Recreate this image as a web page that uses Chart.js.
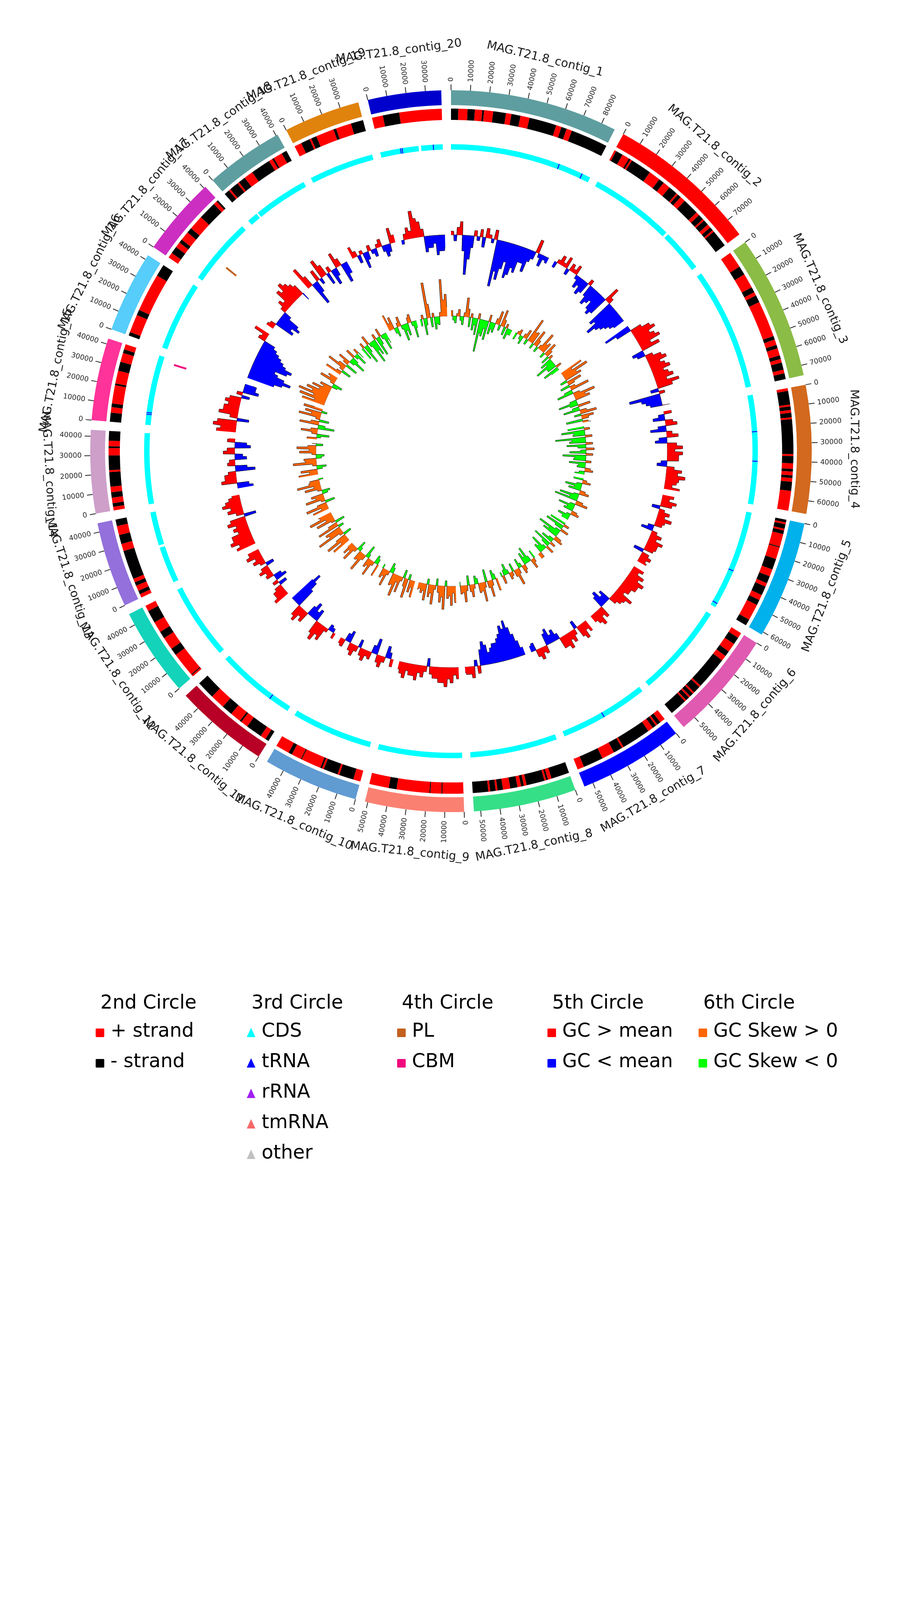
<!DOCTYPE html>
<html>
<head>
<meta charset="utf-8">
<title>MAG.T21.8 circular genome map</title>
<script src="https://cdn.jsdelivr.net/npm/chart.js@4.4.1/dist/chart.umd.min.js"></script>
<style>
  html, body { margin: 0; padding: 0; background: #fff; }
  #page { position: relative; width: 2310px; height: 4620px; background: #fff; font-family: "DejaVu Sans", sans-serif; }
  #page canvas { position: absolute; left: 0; top: 0; }
  .lg-text { position: absolute; font-size: 49px; line-height: 57px; color: #000; white-space: nowrap; }
  .lg-mark { position: absolute; width: 22px; height: 22px; border-radius: 2px; }
  .lg-mark.tri { height: 24px; border-radius: 0; clip-path: polygon(50% 0, 100% 100%, 0 100%); }
</style>
</head>
<body>
<div id="page">
  <canvas id="rings" width="2310" height="2310"></canvas>
  <canvas id="skew" width="2310" height="2310"></canvas>
  <canvas id="gc" width="2310" height="2310"></canvas>
</div>
<script>
// contigs, clockwise from the top
const contigNames = [
  'MAG.T21.8_contig_1', 'MAG.T21.8_contig_2', 'MAG.T21.8_contig_3', 'MAG.T21.8_contig_4',
  'MAG.T21.8_contig_5', 'MAG.T21.8_contig_6', 'MAG.T21.8_contig_7', 'MAG.T21.8_contig_8',
  'MAG.T21.8_contig_9', 'MAG.T21.8_contig_10', 'MAG.T21.8_contig_11', 'MAG.T21.8_contig_12',
  'MAG.T21.8_contig_13', 'MAG.T21.8_contig_14', 'MAG.T21.8_contig_15', 'MAG.T21.8_contig_16',
  'MAG.T21.8_contig_17', 'MAG.T21.8_contig_18', 'MAG.T21.8_contig_19', 'MAG.T21.8_contig_20'
];
const contigLengths = [87400, 79500, 75200, 66800, 61500, 57500, 54700, 53500, 51500, 49600,
                       49000, 46200, 44600, 43300, 42900, 42600, 41000, 40900, 39800, 38200];
const contigColors = ['#5f9ea0', '#ff0000', '#8bbc46', '#d2691e', '#00b1eb', '#e05ab2', '#0000ff', '#35df87', '#fa8072', '#609bd2',
                      '#b80026', '#13d3ba', '#9370db', '#cd9fc9', '#ff3399', '#56cdfa', '#cc2ec2', '#5f9ea0', '#e0830c', '#0000cd'];

// 2nd circle: strand of the first gene run, then kb positions where the strand flips
const strandFirst = ['-', '+', '+', '+', '-', '+', '+', '-', '+', '+', '-', '+', '+', '+', '-', '-', '+', '-', '+', '+'];
const strandSwitchKb = [
  [4, 9, 13, 17, 18, 23, 30, 33, 38, 43, 58, 61, 64, 67],
  [1, 5, 9, 10, 11, 22.6, 29, 32, 36, 41, 42, 44, 47, 56, 58, 61, 62, 65, 67, 69, 70],
  [9, 14, 22, 25, 27, 31, 51, 53, 56, 58, 62, 64, 66, 70, 72],
  [1.5, 9, 10, 12, 13.5, 16, 17, 36, 37, 41, 44, 45.5, 47.5, 49, 51, 56],
  [1.5, 2.5, 5, 6, 8, 15, 15.5, 22, 28, 32, 36, 38, 43, 46, 49, 58],
  [3, 7, 12, 15, 18, 36, 37, 41, 42, 44, 45, 47, 48],
  [3, 5, 6, 8, 11, 27, 28, 33, 40, 51],
  [10, 12, 13, 14, 24, 25.5, 27, 29, 33, 37, 40, 41, 44, 45],
  [11.5, 12, 18, 18.5, 36.5, 40.8],
  [4, 12, 13, 21, 22, 23, 34, 34.5, 40, 42],
  [2, 5, 14, 18, 19, 25, 31, 39],
  [1, 1.5, 15, 19, 26, 30, 36, 43],
  [2, 4, 7, 9, 11, 27, 31, 36, 41],
  [2, 4, 7, 10, 13, 21, 22, 30, 34, 35, 38],
  [5, 8, 10, 20, 21, 28, 33, 38, 40],
  [2, 12, 15, 36],
  [3, 7, 10, 12, 17, 20, 28, 38, 40],
  [3, 4, 9, 10, 14, 19, 30, 32, 33, 38],
  [4, 9, 10, 13, 23, 24.5, 33],
  [6, 15]
];

// 3rd circle: CDS-free stretches [contig, fromKb, toKb] and tRNA sites [contig, kb]
const cdsGapsKb = [[2, 52, 53.5], [13, 22.5, 24], [18, 6.5, 7.5], [20, 23.5, 25]];
const trnaKb = [[1, 67], [1, 82], [4, 22.5], [4, 40.5], [5, 37], [5, 59], [7, 28], [11, 13],
                [15, 6.5], [15, 7.5], [20, 12.5], [20, 13.5], [20, 32.5]];

// 4th circle: CAZyme hits [contig, kb]
const plKb = [[17, 15.5]];
const cbmKb = [[15, 40]];

// 5th circle: GC content (%) per 2.5 kb window
const gcWindow = 2500;
const gcContent = [
  [56, 53.5, 57, 58.5, 51, 45, 49, 52, 56.5, 54, 57, 52.5, 57.5, 56, 54, 57.5, 43, 47, 45, 48, 50, 46, 47, 49, 48, 51, 51, 49, 52, 53, 58.5, 54, 52, 54, 53.5],
  [53.5, 56, 57.5, 56, 58, 53.5, 57, 56, 57.5, 54, 52, 53, 51, 52, 56.5, 52, 50, 51, 52, 50, 49, 50, 59, 56.5, 48, 49, 46, 48, 49, 50, 51, 52],
  [48, 51, 58, 60, 61, 59, 60, 61, 58, 60, 52, 53, 57, 59, 60, 58, 59, 60, 58, 59, 60, 58, 61, 59, 53, 56.5, 47, 50, 51, 52, 57],
  [57, 53.5, 52, 57, 58, 53, 51, 56.5, 58, 53, 52, 57.5, 59, 57, 59, 58, 58, 53.5, 52.5, 57, 59, 58, 60, 58.5, 58, 57, 59],
  [58, 57, 59, 58, 53, 56.5, 58, 57, 59, 57.5, 57, 53.5, 52, 56.5, 58, 57, 59, 58, 58, 57.5, 52.5, 57, 58, 57, 57.5],
  [58, 57, 59, 58, 60, 59, 59, 58, 58, 57, 60, 58.5, 58, 57, 52, 53, 51, 52, 58, 57, 59, 58, 57],
  [58, 57, 59, 58, 53, 56.5, 58, 57, 59, 58, 58, 53.5, 52, 53, 51, 52, 57, 56.5, 58, 57, 53, 53.5],
  [53, 51, 49, 47, 45, 47, 46, 48, 49, 50, 50, 51, 52, 50, 49, 51, 57, 53.5, 58, 57, 57, 56.5],
  [58, 57, 59, 58, 60, 59, 59, 58, 58, 57, 53, 56.5, 58, 57, 59, 58, 58, 57, 59, 58, 57],
  [57, 53.5, 52, 56.5, 58, 57, 51, 53, 57, 56.5, 58, 57, 53, 56.5, 58, 57, 52, 53, 57, 56.5],
  [56.5, 54, 53.5, 56, 59, 58, 60, 58.5, 52, 53, 51, 52.5, 58, 57, 59, 58, 50, 48, 46, 48],
  [59, 58, 58, 57, 53, 56.5, 52, 53, 57, 56.5, 58, 57, 53, 56.5, 58, 57, 59, 58, 58],
  [60, 59, 61, 60, 60, 58, 59, 58, 60, 59, 52, 57, 59, 58, 60, 59, 58, 57],
  [51, 52, 59, 58, 58, 57, 50, 52, 57, 56.5, 52, 53, 58, 57, 51, 52, 57, 56.5],
  [60, 59, 61, 60, 52, 57, 60, 59, 59, 58, 59, 58, 53, 56.5, 51, 52, 52, 53],
  [48, 46, 44, 46, 48, 49, 46, 45, 47, 48, 49, 50, 51, 52, 57, 56.5, 59, 58],
  [57, 56.5, 50, 51, 49, 50, 53, 56.5, 58, 57, 60, 59, 61, 60, 59, 58, 53],
  [61, 58, 49, 52, 58, 53.5, 60, 58, 52, 56.5, 51, 53, 59, 57, 50, 52, 52],
  [58, 56.5, 53, 56, 51, 53, 56.5, 54, 53, 56, 57, 53.5, 52, 53, 59, 57],
  [54, 56.5, 58, 57, 62, 60, 59, 57, 51, 52, 52, 53, 50, 51, 51, 52]
];

// 6th circle: GC skew per 2.5 kb window
const gcSkew = [
  [0.04, -0.03, -0.05, 0.02, 0.05, -0.03, -0.06, 0.03, 0.14, 0.06, -0.07, 0.03, -0.09, -0.05, -0.12, 0.04, -0.24, -0.1, -0.12, -0.06, -0.14, 0.05, -0.09, -0.05, -0.07, 0.04, 0.1, -0.04, 0.12, 0.05, -0.06, 0.03, -0.08, -0.04, -0.04],
  [-0.05, 0.02, 0.04, -0.03, -0.06, 0.03, 0.07, -0.04, 0.18, 0.08, 0.09, -0.04, 0.12, 0.05, -0.04, 0.03, 0.14, 0.06, 0.08, -0.04, 0.1, 0.05, -0.06, 0.03, -0.09, -0.05, -0.15, -0.07, -0.07, 0.04, -0.12, -0.06],
  [0.17, 0.08, 0.2, 0.1, 0.13, -0.05, 0.11, 0.05, -0.07, 0.04, 0.14, -0.06, -0.12, 0.05, 0.16, 0.08, 0.11, -0.05, -0.14, -0.06, 0.09, -0.05, -0.12, 0.05, 0.12, -0.05, 0.09, 0.05, -0.12, 0.04, 0.06],
  [-0.12, 0.04, -0.17, -0.08, -0.09, 0.05, -0.22, -0.1, -0.12, 0.05, -0.14, -0.06, 0.06, -0.04, -0.12, 0.05, -0.17, -0.08, -0.09, 0.04, -0.12, -0.05, -0.06, 0.04, 0.06, -0.04, -0.07],
  [-0.07, 0.03, 0.06, -0.04, -0.12, -0.05, -0.09, 0.04, 0.07, -0.04, -0.14, -0.06, -0.17, 0.05, 0.09, -0.04, -0.12, -0.05, -0.07, 0.04, 0.06, -0.03, -0.09, -0.05, -0.05],
  [-0.12, 0.04, -0.14, -0.06, 0.06, -0.04, -0.17, -0.08, -0.12, 0.05, 0.07, -0.04, -0.09, 0.04, -0.14, -0.06, 0.06, -0.03, -0.12, -0.05, -0.07, 0.04, 0.04],
  [-0.06, 0.03, 0.07, -0.04, -0.12, -0.05, -0.09, 0.04, 0.06, -0.03, -0.07, 0.04, 0.12, 0.05, -0.06, 0.03, 0.05, -0.03, -0.08, -0.04, 0.06, -0.03],
  [0.09, -0.04, -0.07, 0.04, 0.12, 0.05, -0.09, 0.04, 0.14, 0.06, 0.07, -0.04, -0.06, 0.03, 0.09, 0.05, -0.07, 0.04, 0.12, 0.05, 0.06, -0.03],
  [0.12, 0.05, 0.14, 0.07, 0.09, -0.04, 0.17, 0.08, 0.12, 0.05, -0.05, 0.03, 0.14, 0.06, 0.09, -0.04, 0.12, 0.05, 0.07, 0.04, 0.05],
  [0.12, 0.05, 0.09, -0.04, 0.14, 0.06, -0.06, 0.03, 0.12, 0.05, 0.16, 0.08, 0.09, -0.04, -0.07, 0.03, 0.12, 0.05, 0.07, -0.03],
  [0.09, -0.04, -0.06, 0.03, 0.12, 0.05, 0.07, -0.03, -0.09, 0.04, 0.14, 0.06, 0.07, -0.03, -0.07, 0.03, 0.12, 0.05, 0.09, 0.04],
  [0.14, 0.06, 0.17, 0.08, -0.06, 0.03, 0.2, 0.1, 0.12, -0.04, 0.16, 0.07, -0.07, 0.03, 0.14, 0.06, 0.18, 0.09, 0.1],
  [0.12, 0.05, 0.16, 0.07, -0.07, 0.03, 0.14, 0.06, 0.09, -0.04, -0.06, 0.03, 0.12, 0.05, 0.17, 0.08, 0.07, -0.03],
  [0.14, 0.06, 0.12, -0.04, -0.07, 0.03, 0.17, 0.08, 0.09, -0.04, -0.06, 0.03, 0.12, 0.05, 0.14, 0.06, -0.05, 0.03],
  [0.07, -0.03, -0.09, 0.04, 0.12, 0.05, -0.12, -0.05, 0.14, 0.06, -0.07, 0.03, 0.16, 0.07, 0.12, -0.04, 0.14, 0.06],
  [0.17, 0.08, 0.2, 0.1, 0.22, 0.12, 0.17, 0.08, 0.14, 0.06, 0.09, -0.04, -0.07, 0.03, 0.12, 0.05, 0.07, -0.03],
  [0.12, 0.04, -0.07, 0.03, 0.14, 0.06, -0.09, 0.04, 0.09, -0.04, -0.12, -0.05, 0.07, -0.03, -0.09, 0.04, -0.05],
  [-0.09, 0.04, -0.14, -0.06, 0.07, -0.03, -0.17, -0.08, -0.12, 0.04, -0.14, -0.06, 0.06, -0.03, -0.12, -0.05, -0.08],
  [0.12, 0.05, 0.09, -0.04, -0.07, 0.03, 0.07, -0.03, -0.12, -0.05, -0.09, 0.04, 0.06, -0.03, -0.12, -0.05],
  [-0.05, 0.03, -0.12, -0.05, 0.26, 0.1, -0.07, 0.03, -0.09, -0.05, -0.06, 0.03, 0.27, 0.12, 0.16, 0.07]
];

const tickStep = 10000;

// legend
const legendTitles = ['2nd Circle', '3rd Circle', '4th Circle', '5th Circle', '6th Circle'];
const legendLabels = [
  ['+ strand', '- strand'],
  ['CDS', 'tRNA', 'rRNA', 'tmRNA', 'other'],
  ['PL', 'CBM'],
  ['GC > mean', 'GC < mean'],
  ['GC Skew > 0', 'GC Skew < 0']
];

// colours
const NONE = 'rgba(0,0,0,0)';
const STRAND_PLUS = '#ff0000', STRAND_MINUS = '#000000';
const CDS_COLOR = '#00ffff', TRNA_COLOR = '#0000ff', RRNA_COLOR = '#a020f0', TMRNA_COLOR = '#f66868', OTHER_COLOR = '#c0c0c0';
const PL_COLOR = '#c4601e', CBM_COLOR = '#f0087c';
const GC_HIGH = '#ff0000', GC_LOW = '#0000ff', SKEW_POS = '#ff6600', SKEW_NEG = '#00ff00';
const legendColors = [
  [STRAND_PLUS, STRAND_MINUS],
  [CDS_COLOR, TRNA_COLOR, RRNA_COLOR, TMRNA_COLOR, OTHER_COLOR],
  [PL_COLOR, CBM_COLOR],
  [GC_HIGH, GC_LOW],
  [SKEW_POS, SKEW_NEG]
];
const legendShapes = ['square', 'tri', 'square', 'square', 'square'];

// geometry (px)
const SIZE = 2310, HALF = SIZE / 2;
const R_OUT = 924, R_IN = 710;
const gapDeg = 1.55;
const markBp = 600;      // drawn width of a tRNA tick
const cazyBp = 1200;     // drawn width of a PL / CBM tick

// layout along the circle (bp), gaps sized to gapDeg
const totalLen = contigLengths.reduce((a, b) => a + b, 0);
const gapLen = gapDeg / (360 - contigLengths.length * gapDeg) * totalLen;
const circLen = totalLen + gapLen * contigLengths.length;
const contigStart = [];
let acc = 0;
contigLengths.forEach(L => { contigStart.push(acc); acc += L + gapLen; });

// ---------- ring datasets for the doughnut ----------
function paint(segs, s, e, color) {
  const out = [];
  segs.forEach(g => {
    if (g.e <= s || g.s >= e) { out.push(g); return; }
    if (g.s < s) out.push({s: g.s, e: s, c: g.c});
    out.push({s: Math.max(g.s, s), e: Math.min(g.e, e), c: color});
    if (g.e > e) out.push({s: e, e: g.e, c: g.c});
  });
  return out;
}

function buildRing(perContig, merge) {
  const data = [], colors = [];
  const push = (v, c) => {
    const last = colors.length - 1;
    if (merge && last >= 0 && colors[last] === c) data[last] += v;
    else { data.push(v); colors.push(c); }
  };
  perContig.forEach(segs => {
    segs.forEach(g => { if (g.e > g.s) push(g.e - g.s, g.c); });
    push(gapLen, NONE);
  });
  return {data, backgroundColor: colors};
}

const contigRing = buildRing(contigLengths.map((L, i) => [{s: 0, e: L, c: contigColors[i]}]), false);

const strandRing = buildRing(contigLengths.map((L, i) => {
  const cuts = [0].concat(strandSwitchKb[i].map(k => k * 1000), [L]);
  let plus = strandFirst[i] === '+';
  const segs = [];
  for (let j = 0; j < cuts.length - 1; j++) {
    segs.push({s: cuts[j], e: cuts[j + 1], c: plus ? STRAND_PLUS : STRAND_MINUS});
    plus = !plus;
  }
  return segs;
}), true);

const cdsRing = buildRing(contigLengths.map((L, i) => {
  let segs = [{s: 0, e: L, c: CDS_COLOR}];
  cdsGapsKb.filter(g => g[0] === i + 1).forEach(g => { segs = paint(segs, g[1] * 1000, g[2] * 1000, NONE); });
  trnaKb.filter(t => t[0] === i + 1).forEach(t => { segs = paint(segs, t[1] * 1000 - markBp / 2, t[1] * 1000 + markBp / 2, TRNA_COLOR); });
  return segs;
}), true);

const cazyRing = buildRing(contigLengths.map((L, i) => {
  let segs = [{s: 0, e: L, c: NONE}];
  plKb.filter(t => t[0] === i + 1).forEach(t => { segs = paint(segs, t[1] * 1000 - cazyBp / 2, t[1] * 1000 + cazyBp / 2, PL_COLOR); });
  cbmKb.filter(t => t[0] === i + 1).forEach(t => { segs = paint(segs, t[1] * 1000 - cazyBp / 2, t[1] * 1000 + cazyBp / 2, CBM_COLOR); });
  return segs;
}), true);

const spacer = w => ({data: [1], backgroundColor: [NONE], weight: w});

// ticks and contig names drawn around the outer ring
const ringLabels = {
  id: 'ringLabels',
  afterDraw(chart) {
    const ctx = chart.ctx;
    const arcs = chart.getDatasetMeta(0).data;
    ctx.save();
    contigLengths.forEach((L, i) => {
      const arc = arcs[i * 2];
      const {x, y, startAngle, endAngle, outerRadius} = arc.getProps(['x', 'y', 'startAngle', 'endAngle', 'outerRadius'], true);
      ctx.strokeStyle = '#222';
      ctx.fillStyle = '#222';
      ctx.lineWidth = 2;
      ctx.font = '18px "DejaVu Sans"';
      ctx.textBaseline = 'middle';
      for (let pos = 0; pos <= L; pos += tickStep) {
        const a = startAngle + (endAngle - startAngle) * pos / L;
        const c = Math.cos(a), s = Math.sin(a);
        ctx.beginPath();
        ctx.moveTo(x + c * outerRadius, y + s * outerRadius);
        ctx.lineTo(x + c * (outerRadius + 15), y + s * (outerRadius + 15));
        ctx.stroke();
        const deg = ((a + Math.PI / 2) * 180 / Math.PI + 360) % 360;
        ctx.save();
        ctx.translate(x + c * (outerRadius + 22), y + s * (outerRadius + 22));
        if (deg <= 180) { ctx.rotate(a); ctx.textAlign = 'left'; }
        else { ctx.rotate(a + Math.PI); ctx.textAlign = 'right'; }
        ctx.fillText(String(pos), 0, 0);
        ctx.restore();
      }
      const mid = (startAngle + endAngle) / 2;
      const deg = ((mid + Math.PI / 2) * 180 / Math.PI + 360) % 360;
      let rot = mid + Math.PI / 2;
      if (deg > 90 && deg <= 270) rot -= Math.PI;
      ctx.save();
      ctx.translate(x + Math.cos(mid) * 1032, y + Math.sin(mid) * 1032);
      ctx.rotate(rot);
      ctx.font = '30px "DejaVu Sans"';
      ctx.fillStyle = '#1a1a1a';
      ctx.textAlign = 'center';
      ctx.fillText(contigNames[i], 0, 0);
      ctx.restore();
    });
    ctx.restore();
  }
};

new Chart(document.getElementById('rings'), {
  type: 'doughnut',
  data: {
    datasets: [
      Object.assign({weight: 38}, contigRing),
      spacer(9),
      Object.assign({weight: 29}, strandRing),
      spacer(62),
      Object.assign({weight: 14}, cdsRing),
      spacer(29),
      Object.assign({weight: 33}, cazyRing)
    ]
  },
  options: {
    responsive: false,
    animation: false,
    events: [],
    radius: R_OUT,
    cutout: (R_IN / R_OUT * 100) + '%',
    elements: {arc: {borderWidth: 0, hoverOffset: 0}},
    plugins: {legend: {display: false}, tooltip: {enabled: false}}
  },
  plugins: [ringLabels]
});

// ---------- radial histograms (5th and 6th circles) ----------
const gridN = 3600;
const gridLabels = [], gcGrid = [], skewGrid = [];
for (let k = 0; k < gridN; k++) {
  const p = k * circLen / gridN;
  let v = null, s = null;
  for (let c = 0; c < contigLengths.length; c++) {
    const off = p - contigStart[c];
    if (off >= 0 && off < contigLengths[c]) {
      const w = Math.floor(off / gcWindow);
      v = gcContent[c][w] ?? null;
      s = gcSkew[c][w] ?? null;
      break;
    }
  }
  gridLabels.push(Math.round(p));
  gcGrid.push(v);
  skewGrid.push(s);
}

const allGc = gcContent.flat();
const gcMean = allGc.reduce((a, b) => a + b, 0) / allGc.length;

function radialHistogram(canvasId, values, base, baseR, pxPerUnit, colHigh, colLow) {
  const min = base - baseR / pxPerUnit;
  const max = min + HALF / pxPerUnit;
  const common = {fill: {value: base}, borderColor: '#000', borderWidth: 1, pointRadius: 0, spanGaps: false};
  new Chart(document.getElementById(canvasId), {
    type: 'radar',
    data: {
      labels: gridLabels,
      datasets: [
        Object.assign({data: values.map(v => v === null ? null : Math.max(v, base)), backgroundColor: colHigh}, common),
        Object.assign({data: values.map(v => v === null ? null : Math.min(v, base)), backgroundColor: colLow}, common)
      ]
    },
    options: {
      responsive: false,
      animation: false,
      events: [],
      plugins: {legend: {display: false}, tooltip: {enabled: false}},
      elements: {line: {tension: 0}},
      scales: {
        r: {
          min: min,
          max: max,
          ticks: {display: false},
          grid: {display: false, circular: true},
          angleLines: {display: false},
          pointLabels: {display: false}
        }
      }
    }
  });
}

radialHistogram('skew', skewGrid, 0, 346, 350, SKEW_POS, SKEW_NEG);
radialHistogram('gc', gcGrid, gcMean, 554, 10, GC_HIGH, GC_LOW);

// ---------- legend ----------
const page = document.getElementById('page');
const colX = [257, 644, 1029, 1414, 1801];
const titleBase = 2582, rowBase = 2654, rowStep = 78;
function addText(txt, x, baseline) {
  const d = document.createElement('div');
  d.className = 'lg-text';
  d.textContent = txt;
  d.style.left = x + 'px';
  d.style.top = (baseline - 45.5) + 'px';
  page.appendChild(d);
}
legendTitles.forEach((t, i) => {
  addText(t, colX[i], titleBase);
  legendLabels[i].forEach((lab, j) => {
    const b = rowBase + j * rowStep;
    const m = document.createElement('div');
    m.className = 'lg-mark' + (legendShapes[i] === 'tri' ? ' tri' : '');
    m.style.background = legendColors[i][j];
    m.style.left = (colX[i] - 12) + 'px';
    m.style.top = (b - (legendShapes[i] === 'tri' ? 23 : 21)) + 'px';
    page.appendChild(m);
    addText(lab, colX[i] + 26, b);
  });
});
</script>
</body>
</html>
